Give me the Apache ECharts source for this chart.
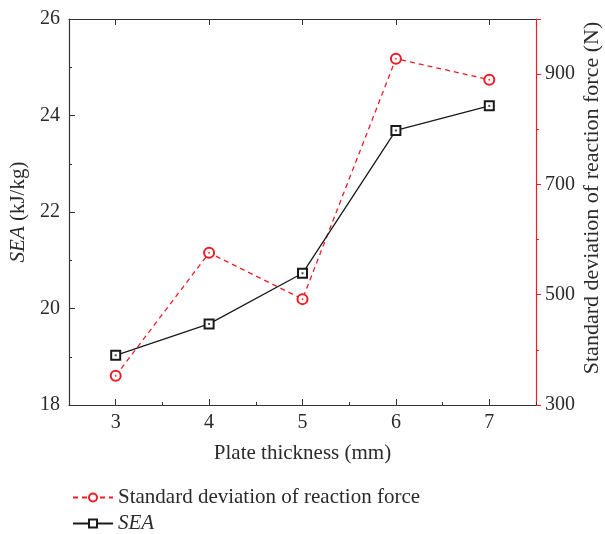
<!DOCTYPE html>
<html><head><meta charset="utf-8">
<script src="https://cdn.jsdelivr.net/npm/echarts@6/dist/echarts.min.js"></script>
<style>html,body{margin:0;padding:0;background:#fff}#c{width:605px;height:534px}</style>
</head><body><div id="c"></div>
<script>
var categories = ['3', '4', '5', '6', '7'];
var seaValues = [19.03, 19.68, 20.73, 23.69, 24.20];
var sdValues = [353, 576, 492, 928, 890];
var leftTicks = [18, 20, 22, 24, 26];
var rightTicks = [300, 500, 700, 900];
var seriesNames = ['Standard deviation of reaction force', 'SEA'];

var FONT = 'Liberation Serif';
var TXT = '#2b2b2b';
var RED = '#ee1c25';
var BLK = '#1a1a1a';
var FS = 20;
var FN = 21;

function legendFor(name, top) {
  return {
    orient: 'vertical', left: 67, top: top, itemGap: 0,
    itemWidth: 40, itemHeight: 10,
    data: [name],
    formatter: function (n) { return n === 'SEA' ? '{i|SEA}' : n; },
    textStyle: { fontFamily: FONT, fontSize: FN, color: TXT,
      rich: { i: { fontStyle: 'italic', fontFamily: FONT, fontSize: FN, color: TXT } } }
  };
}

var chart = echarts.init(document.getElementById('c'));
chart.setOption({
  animation: false,
  textStyle: { fontFamily: FONT, color: TXT },
  grid: { left: 69, right: 69, top: 19, bottom: 129, containLabel: false, outerBoundsMode: 'none' },
  legend: [legendFor(seriesNames[0], 482), legendFor(seriesNames[1], 508)],
  xAxis: [
    { type: 'category', data: categories, position: 'bottom', boundaryGap: true,
      axisLine: { show: true, lineStyle: { color: '#333', width: 1.2 } },
      axisTick: { show: true, alignWithLabel: true, inside: true, length: 6, lineStyle: { color: '#333' } },
      axisLabel: { fontFamily: FONT, fontSize: FS, color: TXT, margin: 8 },
      name: 'Plate thickness (mm)', nameLocation: 'middle', nameGap: 38,
      nameTextStyle: { fontFamily: FONT, fontSize: FN, color: TXT } },
    { type: 'category', data: categories, position: 'bottom', boundaryGap: true, gridIndex: 0,
      axisLine: { show: false },
      axisTick: { show: true, alignWithLabel: false, inside: true, length: 3, lineStyle: { color: '#333' } },
      axisLabel: { show: false } },
    { type: 'category', data: categories, position: 'top', boundaryGap: true,
      axisLine: { show: true, lineStyle: { color: '#333', width: 1.2 } },
      axisTick: { show: true, alignWithLabel: true, inside: true, length: 6, lineStyle: { color: '#333' } },
      axisLabel: { show: false } }
  ],
  yAxis: [
    { type: 'value', position: 'left', min: leftTicks[0], max: leftTicks[leftTicks.length - 1], interval: 2,
      axisLine: { show: true, lineStyle: { color: '#333', width: 1.2 } },
      axisTick: { show: true, inside: true, length: 6, lineStyle: { color: '#333' } },
      minorTick: { show: true, splitNumber: 2, length: 3, lineStyle: { color: '#333' } },
      splitLine: { show: false },
      axisLabel: { fontFamily: FONT, fontSize: FS, color: TXT, margin: 9 },
      name: '{i|SEA} (kJ/kg)', nameLocation: 'middle', nameGap: 40,
      nameTextStyle: { fontFamily: FONT, fontSize: FN, color: TXT,
        rich: { i: { fontStyle: 'italic', fontFamily: FONT, fontSize: FN, color: TXT } } } },
    { type: 'value', position: 'right', min: rightTicks[0], max: 1000, interval: 200,
      axisLine: { show: true, lineStyle: { color: RED, width: 1.2 } },
      axisTick: { show: true, inside: false, length: 5, lineStyle: { color: RED } },
      minorTick: { show: true, splitNumber: 2, length: 3, lineStyle: { color: RED } },
      splitLine: { show: false },
      axisLabel: { fontFamily: FONT, fontSize: FS, color: TXT, margin: 9, showMaxLabel: false,
        formatter: function (v) { return rightTicks.indexOf(v) >= 0 ? String(v) : ''; } },
      name: 'Standard deviation of reaction force (N)', nameLocation: 'middle', nameGap: 45, nameRotate: 90,
      nameMoveOverlap: false,
      nameTextStyle: { fontFamily: FONT, fontSize: 22, color: TXT, padding: [0, 0, 0, 28] } }
  ],
  series: [
    { name: seriesNames[0], type: 'line', yAxisIndex: 1, data: sdValues,
      symbol: 'emptyCircle', symbolSize: 10,
      lineStyle: { color: RED, width: 1.3, type: [5, 4] },
      itemStyle: { color: RED, borderColor: RED, borderWidth: 1.3 }, z: 3 },
    { name: seriesNames[1], type: 'line', yAxisIndex: 0, data: seaValues,
      symbol: 'emptyRect', symbolSize: 9,
      lineStyle: { color: BLK, width: 1.3 },
      itemStyle: { color: BLK, borderColor: BLK, borderWidth: 1.6 }, z: 4 },
    { name: 'sdDot', type: 'scatter', yAxisIndex: 1, data: sdValues, symbol: 'circle', symbolSize: 2,
      itemStyle: { color: RED }, z: 6, silent: true },
    { name: 'seaDot', type: 'scatter', yAxisIndex: 0, data: seaValues, symbol: 'rect', symbolSize: 2,
      itemStyle: { color: BLK }, z: 6, silent: true }
  ]
});
</script></body></html>
